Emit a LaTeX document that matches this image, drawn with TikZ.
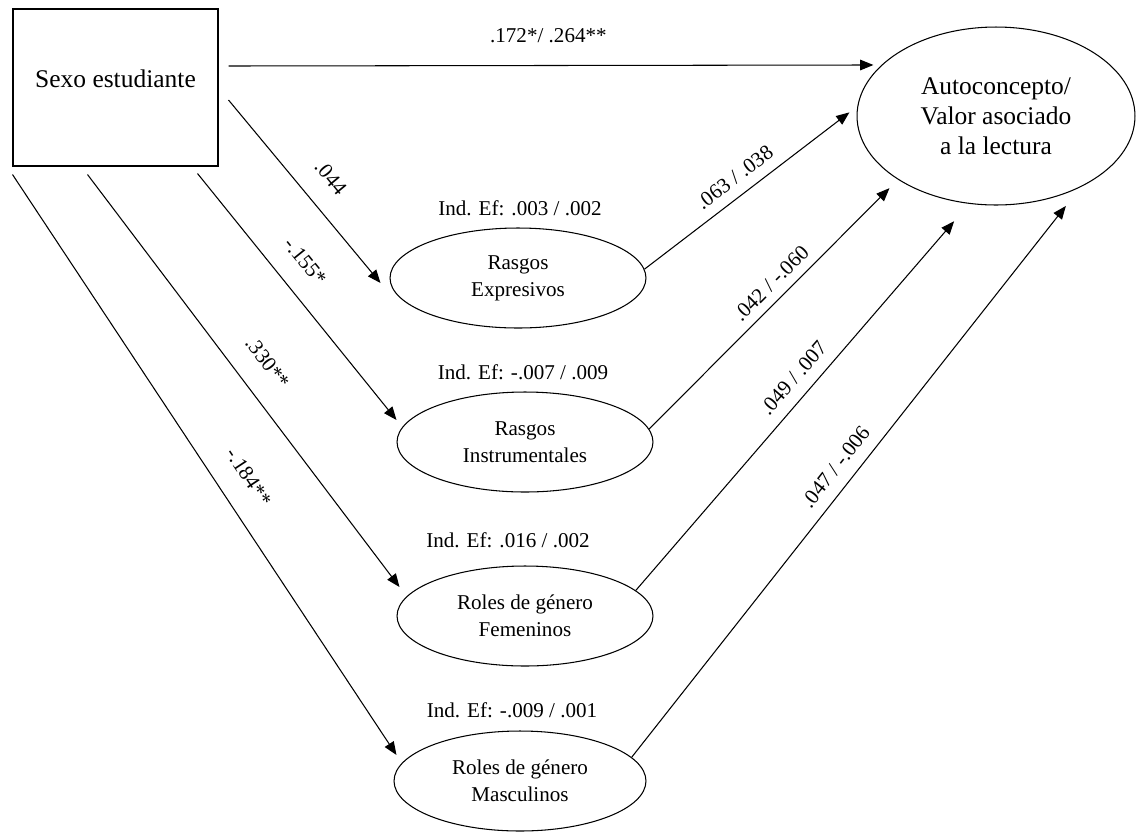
\documentclass[tikz,border=0pt]{standalone}
\usepackage{fontspec}
\setmainfont{Liberation Serif}
\usetikzlibrary{shapes.geometric,arrows.meta}

\begin{document}
\begin{tikzpicture}[x=0.02cm, y=-0.02cm, line width=0.6pt,
  var/.style={draw, ellipse, inner sep=0pt, minimum width=5.12cm, minimum height=2cm, align=center, font=\fontsize{12}{15.5}\selectfont},
  arr/.style={-{Triangle[length=7.5pt,width=6pt]}},
  coef/.style={sloped, font=\fontsize{12}{14}\selectfont},
  ief/.style={font=\fontsize{12}{14}\selectfont}]
\useasboundingbox (0,0) rectangle (1137,833);

\node[draw, minimum width=4.1cm, minimum height=3.14cm, text depth=0.36cm, font=\fontsize{14.5}{17.5}\selectfont] (sexo) at (115.5,87.5) {Sexo estudiante};
\node[draw, ellipse, inner sep=0pt, minimum width=5.56cm, minimum height=3.56cm, align=center, font=\fontsize{14.5}{17}\selectfont] (auto) at (996,116) {Autoconcepto/\\Valor asociado\\a la lectura};

\node[var] (rexp) at (518,278) {Rasgos\\Expresivos};
\node[var] (rins) at (525,442) {Rasgos\\Instrumentales};
\node[var] (rfem) at (525,616) {Roles de género\\Femeninos};
\node[var, minimum width=5.04cm] (rmas) at (520,781) {Roles de género\\Masculinos};

\node[ief] (ief1) at (520,208) {Ind. Ef: .003 / .002};
\node[ief] (ief2) at (523,372) {Ind. Ef: -.007 / .009};
\node[ief] (ief3) at (508,540) {Ind. Ef: .016 / .002};
\node[ief] (ief4) at (512,710) {Ind. Ef: -.009 / .001};

\draw[arr, shorten >=0.16cm] ([shift={(10,-21.5)}]sexo.east) -- (auto.156.5) node[coef, pos=0.49, above=0.33cm] {.172*/ .264**};

\draw[arr] ([shift={(10,12.5)}]sexo.east) -- ([shift={(-9,5)}]rexp.west) node[coef, pos=0.526, above=0.31cm] {.044};
\draw[arr] ([shift={(-21,7)}]sexo.south east) -- ([shift={(0,-22)}]rins.west) node[coef, pos=0.43, above=0.3cm] {-.155*};
\draw[arr] ([shift={(75,8)}]sexo.south west) -- ([shift={(3,-29)}]rfem.west) node[coef, pos=0.5, above=0.33cm] {.330**};
\draw[arr] ([shift={(0,8)}]sexo.south west) -- ([shift={(3,-26)}]rmas.west) node[coef, pos=0.55, above=0.33cm] {-.184**};

\draw[arr, shorten >=0.2cm] (rexp.4) -- (auto.176.2) node[coef, pos=0.475, above=0.09cm] {.063 / .038};
\draw[arr, shorten >=0.24cm] (rins.6) -- (auto.213) node[coef, pos=0.537, above=0.06cm] {.042 / -.060};
\draw[arr, shorten >=0.46cm] (rfem.13) -- (auto.253.5) node[coef, pos=0.517, above=0.12cm] {.049 / .007};
\draw[arr, shorten >=0.48cm] (rmas.12) -- (auto.320.9) node[coef, pos=0.488, above=0.12cm] {.047 / -.006};
\end{tikzpicture}
\end{document}
